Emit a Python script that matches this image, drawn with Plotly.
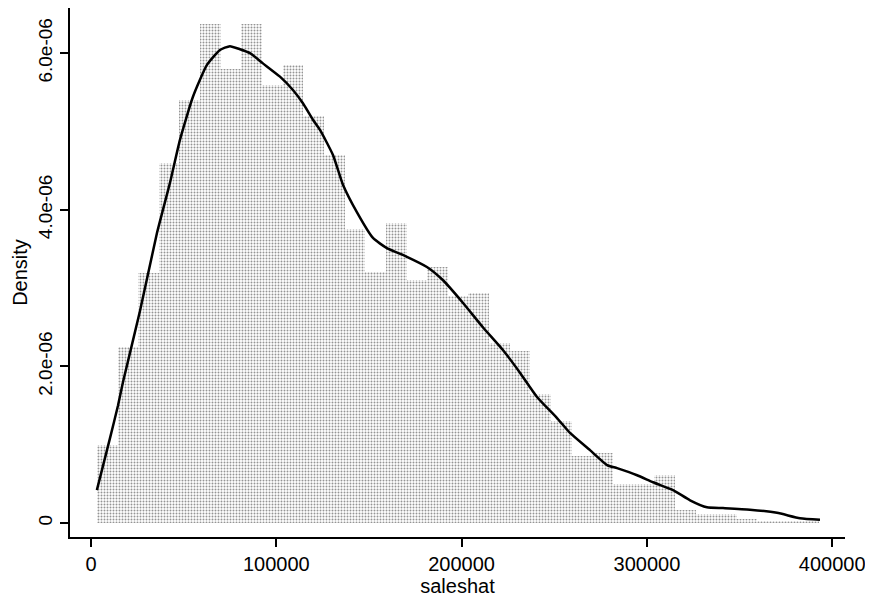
import plotly.graph_objects as go

# Histogram bins (density units, 1e-6)
bin_start = 3200
bin_width = 11140
hist_density = [1.0, 2.25, 3.19, 4.6, 5.4, 6.37, 5.8, 6.37, 5.6, 5.85,
                5.2, 4.7, 3.75, 3.2, 3.83, 3.1, 3.27, 2.9, 2.94, 2.3,
                2.2, 1.65, 1.3, 0.85, 0.9, 0.5, 0.5, 0.61, 0.17, 0.12,
                0.12, 0.05, 0.03, 0.02, 0.02]

# Kernel density curve
kde_x = [3200, 10250, 14600, 17300, 26400, 35600, 42600, 48000, 55000, 62600,
         69600, 75000, 80400, 85800, 92800, 102000, 109000, 114400, 119800, 123600,
         130600, 136000, 143500, 152200, 159700, 170500, 181300, 190000, 200800, 211500,
         222300, 231500, 240700, 251500, 258500, 269300, 278500, 283900, 294700, 303300,
         314100, 323300, 332400, 341100, 355600, 370200, 382600, 393400]
kde_y = [0.42, 1.08, 1.50, 1.80, 2.70, 3.70, 4.34, 4.89, 5.44, 5.85,
         6.04, 6.09, 6.05, 6.00, 5.87, 5.70, 5.53, 5.36, 5.15, 5.02,
         4.70, 4.32, 3.97, 3.64, 3.51, 3.40, 3.27, 3.10, 2.81, 2.50,
         2.21, 1.92, 1.61, 1.34, 1.15, 0.93, 0.74, 0.70, 0.61, 0.52,
         0.42, 0.29, 0.20, 0.19, 0.17, 0.13, 0.06, 0.04]

x_ticks = [0, 100000, 200000, 300000, 400000]
x_ticktext = ["0", "100000", "200000", "300000", "400000"]
y_ticks = [0, 2e-6, 4e-6, 6e-6]
y_ticktext = ["0", "2.0e-06", "4.0e-06", "6.0e-06"]

scale = 1e-6
centers = [bin_start + (i + 0.5) * bin_width for i in range(len(hist_density))]

fig = go.Figure()
fig.add_trace(go.Bar(
    x=centers, y=[v * scale for v in hist_density], width=bin_width,
    marker=dict(color="white", line=dict(width=0),
                pattern=dict(shape=".", fgcolor="#2a2a2a", bgcolor="white",
                             size=3, solidity=0.33)),
    showlegend=False, hoverinfo="skip"))
fig.add_trace(go.Scatter(
    x=kde_x, y=[v * scale for v in kde_y], mode="lines",
    line=dict(color="black", width=2.5, shape="spline", smoothing=0.5),
    showlegend=False))

font = "Liberation Sans, Arial, Helvetica, sans-serif"
# page body has an 8px default margin, so the figure is sized to fit inside it
fig.update_layout(
    width=865, height=590,
    margin=dict(l=62, r=28, t=0, b=61, autoexpand=False),
    paper_bgcolor="white", plot_bgcolor="white",
    bargap=0,
    font=dict(family=font, size=20, color="black"),
    xaxis=dict(range=[-11300, 406900], tickvals=x_ticks, ticktext=x_ticktext,
               showline=True, linecolor="black", linewidth=2, mirror=False,
               ticks="outside", ticklen=8, tickwidth=1.5, tickcolor="black",
               showgrid=False, zeroline=False, automargin=False,
               tickfont=dict(size=20),
               title=dict(text="saleshat", font=dict(size=20), standoff=0)),
    yaxis=dict(range=[-0.179e-6, 6.577e-6], tickvals=y_ticks, ticktext=y_ticktext,
               showline=True, linecolor="black", linewidth=2, mirror=False,
               ticks="outside", ticklen=8, tickwidth=1.5, tickcolor="black",
               showgrid=False, zeroline=False, tickangle=-90, automargin=False,
               tickfont=dict(size=19),
               title=dict(text="Density", font=dict(size=20), standoff=2)),
)
fig.write_html("out.html")
